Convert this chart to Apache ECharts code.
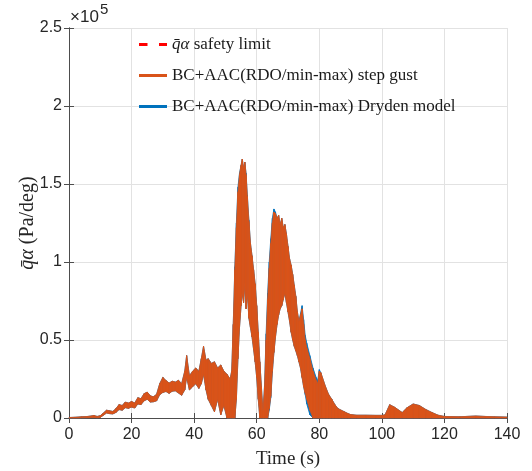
<!DOCTYPE html>
<html>
<head>
<meta charset="utf-8">
<script src="https://cdn.jsdelivr.net/npm/echarts@6/dist/echarts.min.js"></script>
<style>
  html, body { margin: 0; padding: 0; background: #fff; }
  #chart { width: 532px; height: 471px; }
</style>
</head>
<body>
<div id="chart"></div>
<script>
// values are in 1e3 Pa/deg, the axis shows them as x10^5
const timeS = [0, 2, 4, 6, 8, 9, 10, 11, 12, 13, 14, 15, 16, 17, 18, 19, 20, 21, 22, 23, 24, 25, 26, 27, 28, 29, 30,
  31, 32, 33, 34, 35, 36, 37, 37.6, 38.5, 39.5, 40.5, 41.5, 42.3, 43, 43.8, 44.5, 45.5, 46.5, 47.5, 48.5, 49.5,
  50.5, 51.5, 52, 52.5, 53, 53.5, 54, 54.5, 55, 55.4, 55.8, 56.2, 56.6, 57, 57.5, 58, 58.5, 59, 59.5, 60, 60.5,
  61, 61.5, 62, 62.5, 63, 63.5, 64, 64.5, 65, 65.5, 66, 66.5, 67, 67.5, 68, 68.5, 69, 69.5, 70, 70.5, 71, 71.5,
  72, 72.5, 73, 73.5, 74, 74.5, 75, 75.5, 76, 77, 78, 79, 79.5, 80, 80.5, 81, 82, 83, 84, 85, 86, 87, 88, 89,
  90, 92, 95, 98, 100, 101, 102.5, 104, 106.5, 108, 110, 112, 114, 116, 118, 120, 125, 130, 133, 136, 140];

// step gust: upper and lower edge of the oscillating band
const gustHi = [0.3, 0.5, 0.8, 1.0, 1.6, 1.0, 1.5, 3.2, 5.0, 4.6, 4.2, 6.0, 8.6, 8.0, 10.2, 9.6, 10.6, 9.6, 13.0, 12.4, 15.6, 16.6, 14.2, 13.6, 15.2, 22.0, 26.0,
  24.0, 22.4, 23.6, 23.0, 24.2, 22.0, 30.0, 40.0, 27.0, 30.0, 32.0, 30.0, 38.0, 46.0, 37.0, 38.0, 35.0, 36.0, 32.0, 34.0, 30.0,
  28.0, 25.0, 30.0, 60.0, 95.0, 122.0, 145.0, 156.0, 162.0, 166.0, 160.0, 164.0, 156.0, 142.0, 126.0, 112.0, 104.0, 95.0, 86.0, 72.0, 55.0,
  36.0, 20.0, 4.0, 20.0, 50.0, 76.0, 96.0, 112.0, 125.0, 132.0, 131.0, 128.0, 130.0, 124.0, 128.0, 122.0, 124.0, 118.0, 110.0, 102.0, 98.0, 92.0,
  85.0, 78.0, 68.0, 62.0, 66.0, 70.0, 60.0, 50.0, 45.0, 38.0, 30.0, 24.0, 22.0, 30.0, 29.0, 26.0, 20.0, 15.0, 12.0, 8.5, 6.0, 5.0, 4.0, 3.0,
  2.2, 1.8, 1.8, 1.7, 1.7, 2.0, 8.5, 7.0, 3.5, 6.5, 9.0, 8.0, 5.5, 3.5, 1.8, 1.0, 0.8, 1.3, 1.0, 0.8, 0.6];
const gustLo = [0, 0, 0.1, 0.2, 0.4, 0.2, 0.4, 1.8, 3.2, 2.8, 2.6, 3.6, 5.4, 5.0, 6.6, 6.2, 7.0, 6.4, 9.0, 8.6, 11.0, 12.0, 10.2, 10.4, 11.0, 15.0, 16.4,
  17.0, 15.8, 17.2, 17.4, 16.0, 14.6, 18.0, 26.0, 18.0, 20.0, 22.0, 19.0, 22.0, 28.0, 18.0, 12.0, 8.0, 4.0, 12.0, 2.0, 8.0,
  0, 0, 0, 0, 0, 12.0, 38.0, 58.0, 72.0, 80.0, 74.0, 86.0, 70.0, 80.0, 64.0, 58.0, 52.0, 44.0, 36.0, 26.0, 12.0,
  0, 0, 0, 0, 0, 0, 6.0, 14.0, 30.0, 42.0, 52.0, 60.0, 66.0, 70.0, 72.0, 76.0, 80.0, 74.0, 68.0, 62.0, 55.0, 50.0,
  46.0, 43.0, 40.0, 36.0, 32.0, 26.0, 20.0, 16.0, 12.0, 5.0, 0, 0, 0, 0, 0, 0, 0, 0, 0, 0, 0, 0, 0, 0,
  0, 0, 0, 0, 0, 0, 0, 0, 0, 0, 0, 0, 0, 0, 0, 0, 0, 0, 0, 0, 0];

// Dryden model: almost the same band, it only shows at a few edges
const drydenHi = [0.3, 0.5, 0.8, 1.0, 1.6, 1.0, 1.5, 3.2, 5.0, 4.6, 4.2, 6.0, 8.6, 8.0, 10.2, 9.6, 10.6, 9.6, 13.0, 12.4, 15.6, 16.6, 14.2, 13.6, 15.2, 22.0, 26.0,
  24.0, 22.4, 23.6, 23.0, 24.2, 22.0, 30.0, 40.0, 27.0, 30.0, 32.0, 30.0, 38.0, 46.0, 37.0, 38.0, 35.0, 36.0, 32.0, 34.0, 30.0,
  28.0, 25.0, 30.0, 60.0, 97.0, 125.0, 148.0, 157.0, 162.0, 166.0, 160.0, 164.0, 157.0, 143.0, 127.0, 112.0, 104.0, 95.0, 86.0, 72.0, 55.0,
  36.0, 20.0, 4.0, 21.0, 54.0, 80.0, 100.0, 115.0, 128.0, 134.0, 132.0, 128.0, 130.0, 124.0, 128.0, 122.0, 124.0, 118.0, 110.0, 102.0, 98.0, 92.0,
  85.0, 78.0, 68.0, 62.0, 67.0, 72.0, 63.0, 53.0, 48.0, 40.0, 32.0, 26.0, 24.0, 31.0, 29.0, 26.0, 20.0, 15.0, 12.0, 8.5, 6.0, 5.0, 4.0, 3.0,
  2.2, 1.8, 1.8, 1.7, 1.7, 2.0, 8.5, 7.0, 3.5, 6.5, 9.0, 8.0, 5.5, 3.5, 1.8, 1.0, 0.8, 1.3, 1.0, 0.8, 0.6];
const drydenLo = [0, 0, 0.1, 0.2, 0.4, 0.2, 0.4, 1.8, 3.2, 2.8, 2.6, 3.6, 5.4, 5.0, 6.6, 6.2, 7.0, 6.4, 9.0, 8.6, 11.0, 12.0, 10.2, 10.4, 11.0, 15.0, 16.4,
  17.0, 15.8, 17.2, 17.4, 16.0, 14.6, 18.0, 26.0, 18.0, 20.0, 22.0, 19.0, 22.0, 28.0, 18.0, 12.0, 8.0, 4.0, 12.0, 2.0, 8.0,
  0, 0, 0, 0, 0, 12.0, 38.0, 58.0, 72.0, 80.0, 74.0, 86.0, 70.0, 80.0, 64.0, 58.0, 52.0, 44.0, 36.0, 26.0, 12.0,
  0, 0, 0, 0, 0, 0, 5.0, 13.0, 29.0, 42.0, 52.0, 60.0, 66.0, 70.0, 72.0, 76.0, 80.0, 74.0, 68.0, 62.0, 55.0, 50.0,
  46.0, 43.0, 40.0, 36.0, 32.0, 26.0, 20.0, 15.0, 9.0, 2.0, 0, 0, 0, 0, 0, 0, 0, 0, 0, 0, 0, 0, 0, 0,
  0, 0, 0, 0, 0, 0, 0, 0, 0, 0, 0, 0, 0, 0, 0, 0, 0, 0, 0, 0, 0];

// the safety limit is above the shown range, only its legend entry is visible
const safetyLimit = [];

const SAFE = 'safety limit';
const GUST = 'BC+AAC(RDO/min-max) step gust';
const DRY = 'BC+AAC(RDO/min-max) Dryden model';

const ORANGE = '#D95319';
const BLUE = '#0072BD';
const AXIS = '#4d4d4d';
const SERIF = 'Liberation Serif';

function bandRows (hi, lo) {
  return timeS.map((t, i) => [t, hi[i], lo[i]]);
}

// one quad per step, from this sample to the next one
function bandRenderer (rows, color) {
  return function (params, api) {
    var i = params.dataIndex;
    if (i >= rows.length - 1) return null;
    var a = rows[i];
    var b = rows[i + 1];
    var pts = [
      api.coord([a[0], a[2]]),
      api.coord([a[0], a[1]]),
      api.coord([b[0], b[1]]),
      api.coord([b[0], b[2]])
    ];
    return {
      type: 'polygon',
      shape: { points: pts },
      style: { fill: color, stroke: color, lineWidth: 0.8 }
    };
  };
}

var myChart = echarts.init(document.getElementById('chart'), null, { renderer: 'canvas' });

var italic = { fontFamily: SERIF, fontStyle: 'italic', fontSize: 17, color: '#1a1a1a' };

function legendAt (name, icon, top, fmt) {
  return {
    data: [{ name: name, icon: icon }],
    left: 134,
    top: top,
    itemWidth: 28,
    itemHeight: 3,
    selectedMode: false,
    formatter: fmt,
    textStyle: { fontFamily: SERIF, fontSize: 17, color: '#1a1a1a', rich: { i: italic } }
  };
}

var valueAxis = {
  axisLine: { show: true, lineStyle: { color: AXIS, width: 1 } },
  axisTick: { show: true, inside: true, length: 5, lineStyle: { color: AXIS } }
};

var gustRows = bandRows(gustHi, gustLo);
var drydenRows = bandRows(drydenHi, drydenLo);

myChart.setOption({
  animation: false,
  backgroundColor: '#fff',
  grid: { left: 69, right: 25, top: 28, bottom: 53, outerBoundsMode: 'none', containLabel: false },
  legend: [
    legendAt(SAFE, 'path://M0,0h8.5v3h-8.5z M20,0h8v3h-8z', 31, function () { return '{i|q\u0304\u03b1} safety limit'; }),
    legendAt(GUST, 'rect', 62),
    legendAt(DRY, 'rect', 93)
  ],
  xAxis: [
    Object.assign({}, valueAxis, {
      type: 'value', min: 0, max: 140, interval: 20, position: 'bottom',
      axisLabel: { color: '#262626', fontFamily: 'Liberation Sans', fontSize: 16, margin: 9 },
      splitLine: { show: true, lineStyle: { color: '#e2e2e2', width: 1 } },
      name: 'Time (s)', nameLocation: 'middle', nameGap: 32, nameMoveOverlap: false,
      nameTextStyle: { fontFamily: SERIF, fontSize: 19, color: '#262626' }
    }),
    Object.assign({}, valueAxis, {
      type: 'value', min: 0, max: 140, interval: 20, position: 'top',
      axisLabel: { show: false }, splitLine: { show: false }
    })
  ],
  yAxis: [
    Object.assign({}, valueAxis, {
      type: 'value', min: 0, max: 250, interval: 50, position: 'left',
      axisLabel: {
        color: '#262626', fontFamily: 'Liberation Sans', fontSize: 16, margin: 7,
        formatter: function (v) { return String(v / 100); }
      },
      splitLine: { show: true, lineStyle: { color: '#e2e2e2', width: 1 } },
      name: '{i|q\u0304\u03b1} (Pa/deg)', nameLocation: 'middle', nameRotate: 90, nameGap: 31,
      nameMoveOverlap: false,
      nameTextStyle: {
        fontFamily: SERIF, fontSize: 20, color: '#262626',
        rich: { i: { fontFamily: SERIF, fontStyle: 'italic', fontSize: 20, color: '#262626' } }
      }
    }),
    Object.assign({}, valueAxis, {
      type: 'value', min: 0, max: 250, interval: 50, position: 'right',
      axisLabel: { show: false }, splitLine: { show: false }
    })
  ],
  graphic: [
    { type: 'text', left: 70, top: 9, style: { text: '\u00d710', font: '17px "Liberation Sans"', fill: '#262626' } },
    { type: 'text', left: 100, top: 2, style: { text: '5', font: '15px "Liberation Sans"', fill: '#262626' } }
  ],
  series: [
    {
      name: DRY, type: 'custom', data: drydenRows, renderItem: bandRenderer(drydenRows, BLUE),
      encode: { x: 0, y: [1, 2] }, itemStyle: { color: BLUE }, z: 2
    },
    {
      name: GUST, type: 'custom', data: gustRows, renderItem: bandRenderer(gustRows, ORANGE),
      encode: { x: 0, y: [1, 2] }, itemStyle: { color: ORANGE }, z: 3
    },
    {
      name: SAFE, type: 'line', data: safetyLimit, symbol: 'none', itemStyle: { color: '#FF0000' },
      lineStyle: { color: '#FF0000', width: 2.5, type: [8.5, 11.5] }, z: 4
    }
  ]
});
</script>
</body>
</html>
